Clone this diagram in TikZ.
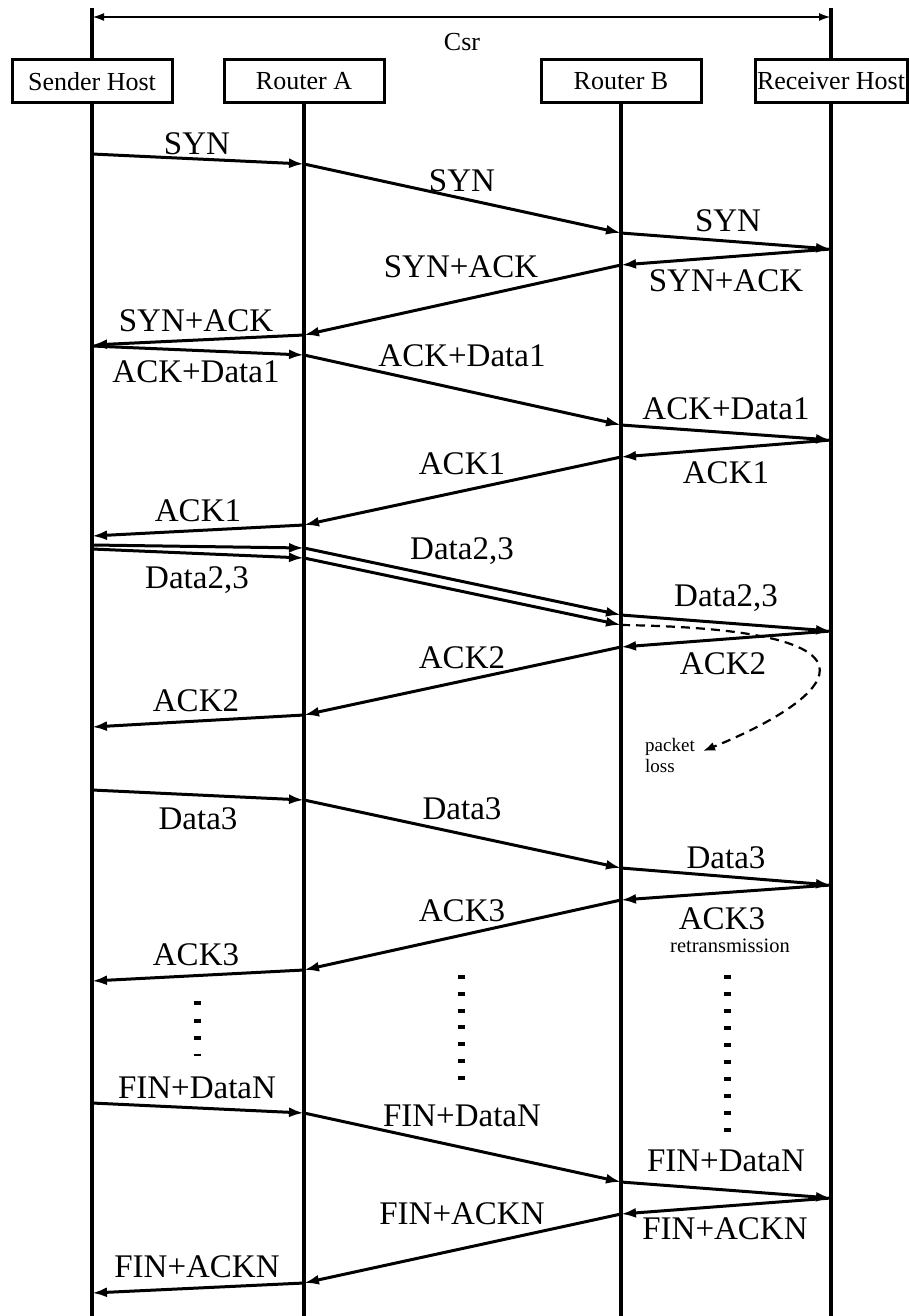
\documentclass[tikz,border=0pt]{standalone}
\usepackage{fontspec}
\setmainfont{Liberation Serif}
\usetikzlibrary{arrows.meta}
\begin{document}
\begin{tikzpicture}[x=1pt,y=-1pt,
  hostbox/.style={draw,line width=3pt,minimum width=160pt,minimum height=43pt,inner sep=0pt,
    font=\fontsize{26}{26}\selectfont},
  life/.style={line width=3.2pt},
  msg/.style={line width=3pt,-{Latex[length=15pt,width=10pt]}},
  lbl/.style={font=\fontsize{33}{33}\selectfont,inner sep=0pt,text height=22pt,text depth=0pt},
  note/.style={font=\fontsize{19}{21}\selectfont,inner sep=0pt,align=left},
  dotline/.style={line width=7pt,dash pattern=on 4pt off #1},
  lossline/.style={line width=2.2pt,dash pattern=on 9pt off 6pt,-{Latex[length=12pt,width=9pt]}}]
\useasboundingbox (0,0) rectangle (909,1316);

% hosts and routers
\node[hostbox] (snd) at (92,81.5) {Sender Host};
\node[hostbox] (ra) at (304,81.5) {Router A};
\node[hostbox] (rb) at (621,81.5) {Router B};
\node[hostbox,minimum width=152pt] (rcv) at (831,81.5) {Receiver Host};

% end-to-end span
\coordinate (sndTop) at (92,8);
\coordinate (rcvTop) at (831,8);
\coordinate (brL) at (92,17);
\coordinate (brR) at (831,17);
\draw[life] (snd.north) -- (sndTop);
\draw[life] (rcv.north) -- (rcvTop);
\draw[line width=2.2pt,{Latex[length=12pt,width=8pt]}-{Latex[length=12pt,width=8pt]}] (brL) -- (brR);
\node[font=\fontsize{26}{26}\selectfont,inner sep=0pt] (csr) at (462,42) {Csr};

% lifelines
\coordinate (sndEnd) at (92,1316);
\coordinate (raEnd) at (304,1316);
\coordinate (rbEnd) at (621,1316);
\coordinate (rcvEnd) at (831,1316);
\draw[life] (snd.south) -- (sndEnd);
\draw[life] (ra.south) -- (raEnd);
\draw[life] (rb.south) -- (rbEnd);
\draw[life] (rcv.south) -- (rcvEnd);

% message end points on the lifelines
\coordinate (S1) at (92,154);   \coordinate (A1) at (304,164);
\coordinate (B1) at (621,233);  \coordinate (R1) at (831,249);
\coordinate (B2) at (621,265);  \coordinate (A2) at (304,335);
\coordinate (S2) at (92,345);
\coordinate (S3) at (92,346);   \coordinate (A3) at (304,355);
\coordinate (B3) at (621,425);  \coordinate (R3) at (831,440);
\coordinate (B4) at (621,457);  \coordinate (A4) at (304,525);
\coordinate (S4) at (92,536);
\coordinate (S5) at (92,545);   \coordinate (A5) at (304,548);
\coordinate (B5) at (621,615);  \coordinate (R5) at (831,631);
\coordinate (S5b) at (92,549);  \coordinate (A5b) at (304,558);
\coordinate (B5b) at (621,625); \coordinate (loss) at (703,751);
\coordinate (B6) at (621,647);  \coordinate (A6) at (304,715);
\coordinate (S6) at (92,727);
\coordinate (S7) at (92,790);   \coordinate (A7) at (304,800);
\coordinate (B7) at (621,868);  \coordinate (R7) at (831,885);
\coordinate (B8) at (621,900);  \coordinate (A8) at (304,970);
\coordinate (S8) at (92,981);
\coordinate (S9) at (92,1103);  \coordinate (A9) at (304,1113);
\coordinate (B9) at (621,1182); \coordinate (R9) at (831,1198);
\coordinate (B10) at (621,1214);\coordinate (A10) at (304,1283);
\coordinate (S10) at (92,1293);

% connection set-up
\draw[msg] (S1) -- (A1);
\draw[msg] (A1) -- (B1);
\draw[msg] (B1) -- (R1);
\draw[msg] (R1) -- (B2);
\draw[msg] (B2) -- (A2);
\draw[msg] (A2) -- (S2);
\node[lbl] (l1) at (197,144) {SYN};
\node[lbl] (l2) at (462,180) {SYN};
\node[lbl] (l3) at (728,220) {SYN};
\node[lbl] (l4) at (726,280) {SYN+ACK};
\node[lbl] (l5) at (461,266) {SYN+ACK};
\node[lbl] (l6) at (196,320) {SYN+ACK};

% first data segment
\draw[msg] (S3) -- (A3);
\draw[msg] (A3) -- (B3);
\draw[msg] (B3) -- (R3);
\draw[msg] (R3) -- (B4);
\draw[msg] (B4) -- (A4);
\draw[msg] (A4) -- (S4);
\node[lbl] (l7) at (196,371) {ACK+Data1};
\node[lbl] (l8) at (462,355) {ACK+Data1};
\node[lbl] (l9) at (726,408) {ACK+Data1};
\node[lbl] (l10) at (726,472) {ACK1};
\node[lbl] (l11) at (462,463) {ACK1};
\node[lbl] (l12) at (198,510) {ACK1};

% two segments, one of them lost
\draw[msg] (S5) -- (A5);
\draw[msg] (A5) -- (B5);
\draw[msg] (B5) -- (R5);
\draw[msg] (S5b) -- (A5b);
\draw[msg] (A5b) -- (B5b);
\draw[lossline] (B5b) .. controls (940,630) and (800,712) .. (loss);
\draw[msg] (R5) -- (B6);
\draw[msg] (B6) -- (A6);
\draw[msg] (A6) -- (S6);
\node[lbl] (l13) at (197,577) {Data2,3};
\node[lbl] (l14) at (462,548) {Data2,3};
\node[lbl] (l15) at (726,595) {Data2,3};
\node[lbl] (l16) at (723,663) {ACK2};
\node[lbl] (l17) at (462,657) {ACK2};
\node[lbl] (l18) at (196,700) {ACK2};
\node[note,anchor=north west] (lossnote) at (645,738) {packet\\loss};

% retransmission
\draw[msg] (S7) -- (A7);
\draw[msg] (A7) -- (B7);
\draw[msg] (B7) -- (R7);
\draw[msg] (R7) -- (B8);
\draw[msg] (B8) -- (A8);
\draw[msg] (A8) -- (S8);
\node[lbl] (l19) at (198,818) {Data3};
\node[lbl] (l20) at (462,808) {Data3};
\node[lbl] (l21) at (726,857) {Data3};
\node[lbl] (l22) at (722,918) {ACK3};
\node[lbl] (l23) at (462,910) {ACK3};
\node[lbl] (l24) at (196,954) {ACK3};
\node[font=\fontsize{20.5}{21}\selectfont,inner sep=0pt,anchor=base] (retx) at (730,952) {retransmission};

% elided exchanges
\coordinate (d1a) at (197,1001); \coordinate (d1b) at (197,1055.5);
\coordinate (d2a) at (461,975);  \coordinate (d2b) at (461,1080);
\coordinate (d3a) at (727,975);  \coordinate (d3b) at (727,1132);
\draw[dotline=13.5pt] (d1a) -- (d1b);
\draw[dotline=12.8pt] (d2a) -- (d2b);
\draw[dotline=13pt] (d3a) -- (d3b);

% connection release
\draw[msg] (S9) -- (A9);
\draw[msg] (A9) -- (B9);
\draw[msg] (B9) -- (R9);
\draw[msg] (R9) -- (B10);
\draw[msg] (B10) -- (A10);
\draw[msg] (A10) -- (S10);
\node[lbl] (l25) at (197,1087) {FIN+DataN};
\node[lbl] (l26) at (462,1115) {FIN+DataN};
\node[lbl] (l27) at (726,1160) {FIN+DataN};
\node[lbl] (l28) at (725,1228) {FIN+ACKN};
\node[lbl] (l29) at (462,1213) {FIN+ACKN};
\node[lbl] (l30) at (197,1266) {FIN+ACKN};
\end{tikzpicture}
\end{document}
